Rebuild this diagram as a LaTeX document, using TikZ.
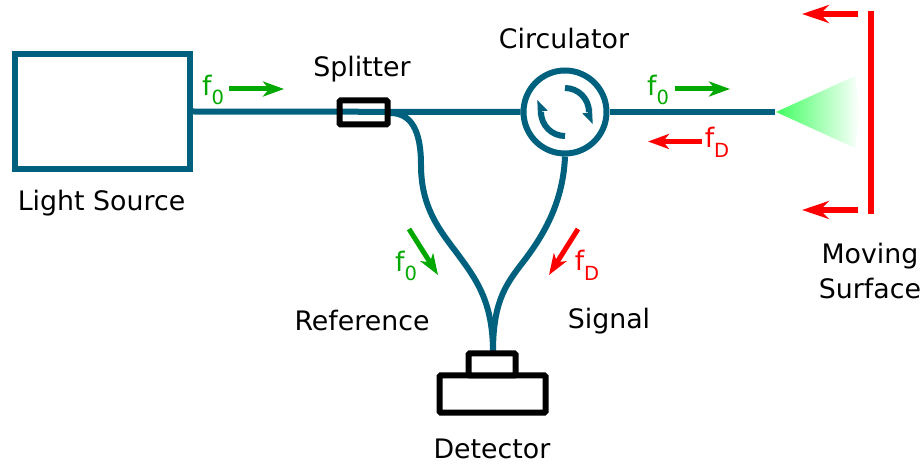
\documentclass[tikz,border=0pt]{standalone}
\usepackage{fontspec}
\setmainfont{DejaVu Sans}
\usetikzlibrary{arrows.meta}
\definecolor{fibre}{HTML}{00617F}
\definecolor{gr}{HTML}{00A800}
\definecolor{rd}{HTML}{FF0000}
\definecolor{beam}{RGB}{64,255,96}
\newcommand\lowsub[1]{\raisebox{-0.36em}{\fontsize{19.5}{19.5}\selectfont #1}}
\tikzset{
 fibreline/.style={draw=fibre,line width=6pt},
 lab/.style={font=\fontsize{26.8}{35}\selectfont,text=black,inner sep=0pt,align=center},
 glab/.style={font=\fontsize{26.8}{33}\selectfont,text=gr,inner sep=0pt},
 rlab/.style={font=\fontsize{26.8}{33}\selectfont,text=rd,inner sep=0pt},
 blackbox/.style={draw=black,line width=6pt,rounded corners=1pt,inner sep=0pt,fill=white},
 garrow/.style={draw=gr,line width=5pt,-{Stealth[length=21pt,width=15pt,inset=6pt]}},
 rarrow/.style={draw=rd,line width=5pt,-{Stealth[length=21pt,width=15pt,inset=6pt]}},
 bigarrow/.style={draw=rd,line width=6pt,-{Stealth[length=27pt,width=18pt,inset=9pt]}},
 circarc/.style={draw=fibre,line width=6pt},
 circhead/.style={fill=fibre,draw=none},
}
\begin{document}
\begin{tikzpicture}[x=1pt,y=-1pt]
\useasboundingbox (0,0) rectangle (922,465);
\coordinate (fibreend) at (775,112);
\coordinate (splitin) at (390,113);
\coordinate (detin) at (493,352);
% nodes
\node[draw=fibre,line width=6pt,minimum width=175pt,minimum height=115pt,inner sep=0pt] (source) at (102.5,111.5) {};
\node[draw=fibre,line width=6pt,circle,minimum size=83pt,inner sep=0pt] (circ) at (565,112) {};
% fibres
\draw[fibreline] (source.east) -- (circ.west);
\draw[fibreline] (circ.east) -- (fibreend);
\draw[fibreline] (splitin) .. controls (411,113) and (421,130) .. (421,165) .. controls (421,212) and (444,235) .. (462,260) .. controls (478,282) and (493,305) .. (detin);
\draw[fibreline] (circ.south) .. controls (563,208) and (538,243) .. (520,266) .. controls (504,287) and (493,305) .. (detin);
% splitter: the fibre shows through
\node[draw=black,line width=6pt,rounded corners=1pt,minimum width=48pt,minimum height=24pt,inner sep=0pt] (splitter) at (363.5,112.5) {};
% detector
\node[blackbox,minimum width=106pt,minimum height=37pt] (detbody) at (492.5,394) {};
\node[blackbox,minimum width=47pt,minimum height=22pt] (dethead) at (492,364.5) {};
% circulator arrows
\draw[circarc] (565,88) arc[start angle=90,end angle=0,radius=24pt];
\fill[circhead] (582.3,113.3) -- (592.7,124) -- (592,108) -- (587.5,113) -- cycle;
\draw[circarc] (565,136) arc[start angle=270,end angle=180,radius=24pt];
\fill[circhead] (547.7,110.7) -- (537.3,100) -- (538,116) -- (542.5,111) -- cycle;
% beam
\shade[left color=beam,right color=white] (776,112) -- (855,76) -- (860,112) -- (855,148) -- cycle;
% surface
\coordinate (s1) at (871,11);
\coordinate (s2) at (871,214);
\draw[draw=rd,line width=6pt] (s1) -- (s2);
\coordinate (b1) at (858,14);\coordinate (b1e) at (802,14);
\coordinate (b2) at (858,210);\coordinate (b2e) at (802,210);
\draw[bigarrow] (b1) -- (b1e);
\draw[bigarrow] (b2) -- (b2e);
% small arrows
\coordinate (g1) at (229,89);\coordinate (g1e) at (284,89);
\coordinate (g2) at (675,89);\coordinate (g2e) at (730,89);
\coordinate (r1) at (702,141.5);\coordinate (r1e) at (648,141.5);
\coordinate (g3) at (409,229);\coordinate (g3e) at (438,275);
\coordinate (r2) at (578,229);\coordinate (r2e) at (549,275);
\draw[garrow] (g1) -- (g1e);
\draw[garrow] (g2) -- (g2e);
\draw[rarrow] (r1) -- (r1e);
\draw[garrow] (g3) -- (g3e);
\draw[rarrow] (r2) -- (r2e);
% labels
\node[lab] (tsource) at (101.5,203.5) {Light Source};
\node[lab] (tsplit) at (362,69) {Splitter};
\node[lab] (tcirc) at (564,39) {Circulator};
\node[lab] (tmove) at (870,271) {Moving\\Surface};
\node[lab] (tref) at (362,321) {Reference};
\node[lab] (tsig) at (609,321) {Signal};
\node[lab] (tdet) at (492,449) {Detector};
\node[glab] (f1) at (213,90) {f\lowsub{0}};
\node[glab] (f2) at (658,90) {f\lowsub{0}};
\node[rlab] (f3) at (717,142) {f\lowsub{D}};
\node[glab] (f4) at (406,266) {f\lowsub{0}};
\node[rlab] (f5) at (587,265) {f\lowsub{D}};
\end{tikzpicture}
\end{document}
